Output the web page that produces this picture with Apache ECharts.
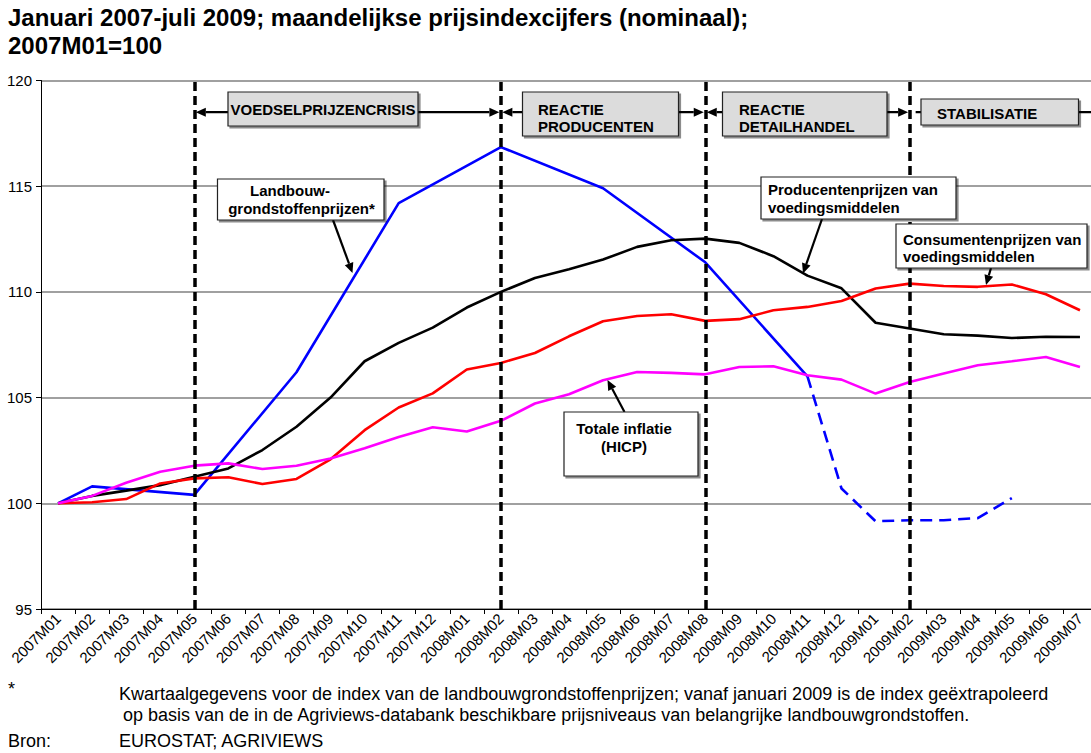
<!DOCTYPE html>
<html><head><meta charset="utf-8">
<script src="https://cdn.jsdelivr.net/npm/echarts@6/dist/echarts.min.js"></script>
<style>html,body{margin:0;padding:0;background:#fff}#c{width:1091px;height:753px}</style>
</head><body><div id="c"></div>
<script>
// ---- data ----
const categories = ['2007M01','2007M02','2007M03','2007M04','2007M05','2007M06','2007M07','2007M08','2007M09','2007M10','2007M11','2007M12',
  '2008M01','2008M02','2008M03','2008M04','2008M05','2008M06','2008M07','2008M08','2008M09','2008M10','2008M11','2008M12',
  '2009M01','2009M02','2009M03','2009M04','2009M05','2009M06','2009M07'];
// Landbouwgrondstoffenprijzen (quarterly observations, solid)
const landbouw = [100, 100.8, null, null, 100.4, null, null, 106.2, null, null, 114.2, null,
  null, 116.85, null, null, 114.9, null, null, 111.4, null, null, 106.0, null,
  null, null, null, null, null, null, null];
// Landbouwgrondstoffenprijzen, extrapolated (dashed)
const landbouwExtrap = [null, null, null, null, null, null, null, null, null, null, null, null,
  null, null, null, null, null, null, null, null, null, null, 106.0, 100.7,
  99.15, 99.2, 99.2, 99.3, 100.25, null, null];
const producenten = [100, 100.35, 100.6, 100.86, 101.26, 101.65, 102.52, 103.62, 105.0, 106.72, 107.59, 108.31,
  109.26, 110.0, 110.66, 111.07, 111.53, 112.13, 112.44, 112.52, 112.32, 111.69, 110.77, 110.17,
  108.54, 108.27, 108.0, 107.93, 107.82, 107.88, 107.87];
const consumenten = [100, 100.05, 100.2, 100.94, 101.18, 101.23, 100.91, 101.15, 102.08, 103.46, 104.53, 105.2,
  106.33, 106.64, 107.11, 107.9, 108.61, 108.86, 108.94, 108.63, 108.71, 109.13, 109.29, 109.57,
  110.16, 110.39, 110.28, 110.24, 110.35, 109.89, 109.13];
const hicp = [100, 100.35, 100.97, 101.49, 101.78, 101.89, 101.62, 101.78, 102.12, 102.6, 103.14, 103.6,
  103.4, 103.9, 104.72, 105.16, 105.82, 106.21, 106.17, 106.1, 106.45, 106.48, 106.06, 105.85,
  105.19, 105.74, 106.14, 106.53, 106.72, 106.92, 106.45];
const yTicks = [95, 100, 105, 110, 115, 120];
const phaseMarks = ['2007M05', '2008M02', '2008M08', '2009M02'];
const phaseLabels = ['VOEDSELPRIJZENCRISIS', 'REACTIE\nPRODUCENTEN', 'REACTIE\nDETAILHANDEL', 'STABILISATIE'];
const titleText = 'Januari 2007-juli 2009; maandelijkse prijsindexcijfers (nominaal);\n2007M01=100';
const footLine1 = 'Kwartaalgegevens voor de index van de landbouwgrondstoffenprijzen; vanaf januari 2009 is de index geëxtrapoleerd';
const footLine2 = 'op basis van de in de Agriviews-databank beschikbare prijsniveaus van belangrijke landbouwgrondstoffen.';
const sourceText = 'EUROSTAT; AGRIVIEWS';

// ---- chart ----
const FONT = '"Liberation Sans", Arial, sans-serif';
const chart = echarts.init(document.getElementById('c'), null, {renderer: 'svg'});
const lineSeries = (name, data, color, extra) => Object.assign({
  name, type: 'line', data, symbol: 'none', connectNulls: true, silent: true,
  emphasis: {disabled: true},
  lineStyle: {color, width: 2.6}
}, extra || {});

const option = {
  animation: false,
  title: {
    text: titleText, left: 8, top: 3, padding: 0,
    textStyle: {fontFamily: FONT, fontWeight: 'bold', fontSize: 24, lineHeight: 28, color: '#000'}
  },
  grid: {left: 41, top: 80.5, width: 1056, height: 528.5, containLabel: false, outerBoundsMode: 'none'},
  xAxis: {
    type: 'category', data: categories, boundaryGap: true,
    axisLine: {lineStyle: {color: '#000', width: 1}},
    axisTick: {show: true, length: 5, lineStyle: {color: '#000'}},
    axisLabel: {rotate: 45, interval: 0, fontSize: 15, color: '#000', fontFamily: FONT, margin: 7},
    splitLine: {show: false}
  },
  yAxis: {
    type: 'value', min: yTicks[0], max: yTicks[yTicks.length - 1], interval: yTicks[1] - yTicks[0],
    axisLine: {show: true, lineStyle: {color: '#000', width: 1}},
    axisTick: {show: true, length: 5, lineStyle: {color: '#000'}},
    axisLabel: {fontSize: 15, color: '#000', fontFamily: FONT, margin: 9},
    splitLine: {lineStyle: {color: '#808080', width: 1.5}}
  },
  series: [
    lineSeries('Landbouwgrondstoffenprijzen', landbouw, '#0000ff'),
    lineSeries('Landbouwgrondstoffenprijzen (extrapolatie)', landbouwExtrap, '#0000ff',
      {connectNulls: false, lineStyle: {color: '#0000ff', width: 2.6, type: [12, 7]}}),
    lineSeries('Producentenprijzen van voedingsmiddelen', producenten, '#000000'),
    lineSeries('Consumentenprijzen van voedingsmiddelen', consumenten, '#ff0000'),
    lineSeries('Totale inflatie (HICP)', hicp, '#ff00ff', {
      markLine: {
        silent: true, symbol: ['none', 'none'], label: {show: false},
        lineStyle: {color: '#000', width: 3.5, type: [9, 5]},
        data: phaseMarks.map(c => ({xAxis: c}))
      }
    })
  ]
};
chart.setOption(option);

// ---- annotations ----
const P = (c, v) => chart.convertToPixel({gridIndex: 0}, [c, v]);
function arrow(x1, y1, x2, y2, w) {
  const dx = x2 - x1, dy = y2 - y1, L = Math.hypot(dx, dy), ux = dx / L, uy = dy / L;
  const hl = 10, hw = 4.5, bx = x2 - ux * hl, by = y2 - uy * hl;
  return [
    {type: 'line', z: 100, shape: {x1, y1, x2: bx, y2: by}, style: {stroke: '#000', lineWidth: w || 2.2}},
    {type: 'polygon', z: 100, shape: {points: [[x2, y2], [bx - uy * hw, by + ux * hw], [bx + uy * hw, by - ux * hw]]}, style: {fill: '#000'}}
  ];
}
function box(x, y, w, h, fill) {
  return {type: 'rect', z: 101, shape: {x, y, width: w, height: h},
    style: {fill, stroke: '#222', lineWidth: 1.2, shadowColor: 'rgba(0,0,0,0.45)', shadowOffsetX: 2, shadowOffsetY: 2, shadowBlur: 0}};
}
function txt(text, x, y, align, size, weight, lh) {
  return {type: 'text', z: 102, style: {text, x, y, align: align || 'left', verticalAlign: 'middle',
    fontFamily: FONT, fontSize: size || 15, fontWeight: weight || 'bold', lineHeight: lh || 17, fill: '#000'}};
}

const yb = P(phaseMarks[0], 118.5)[1];
const xs = phaseMarks.map(c => P(c, 118.5)[0]);
let els = [];
for (let i = 0; i < 3; i++) {
  const mid = (xs[i] + xs[i + 1]) / 2;
  els = els.concat(arrow(mid, yb, xs[i] + 1.5, yb), arrow(mid, yb, xs[i + 1] - 1.5, yb));
}
els.push({type: 'line', z: 100, shape: {x1: xs[3] + 6, y1: yb, x2: 1091, y2: yb}, style: {stroke: '#000', lineWidth: 2.2}});

// banner boxes
els.push(box(228, 92, 190, 34, '#dcdcdc'), txt(phaseLabels[0], 323, 109.5, 'center'));
els.push(box(522.5, 92, 156, 44, '#dcdcdc'), txt(phaseLabels[1], 538, 118, 'left'));
els.push(box(722.5, 92, 164.5, 44, '#dcdcdc'), txt(phaseLabels[2], 739, 118, 'left'));
els.push(box(921, 99, 157.5, 26, '#dcdcdc'), txt(phaseLabels[3], 937, 113, 'left'));

// callouts
els = els.concat(arrow(333, 220, 352.5, 273));
els.push(box(217.5, 179, 166.5, 41, '#fff'), txt('Landbouw-', 290, 190.5, 'center'), txt('grondstoffenprijzen*', 301.5, 208.5, 'center'));
els = els.concat(arrow(822, 219, 803, 273.5));
els.push(box(761, 177, 195, 42, '#fff'), txt('Producentenprijzen van\nvoedingsmiddelen', 768, 198, 'left', 15, 'bold', 18));
els = els.concat(arrow(991, 268, 986, 285));
els.push(box(896, 224, 191, 44, '#fff'), txt('Consumentenprijzen van\nvoedingsmiddelen', 903, 248, 'left', 15, 'bold', 17));
els = els.concat(arrow(624.5, 412, 607.5, 380));
els.push(box(564, 412, 134, 64, '#fff'), txt('Totale inflatie\n(HICP)', 624, 437, 'center', 15, 'bold', 18));

// footnote
els.push(txt('*', 8, 689, 'left', 18, 'normal', 20));
els.push(txt(footLine1, 119, 694, 'left', 18, 'normal', 20));
els.push(txt(footLine2, 123, 715, 'left', 18, 'normal', 20));
els.push(txt('Bron:', 8, 741, 'left', 18, 'normal', 20));
els.push(txt(sourceText, 119, 741, 'left', 18, 'normal', 20));

chart.setOption({graphic: {elements: els}});
</script>
</body></html>
